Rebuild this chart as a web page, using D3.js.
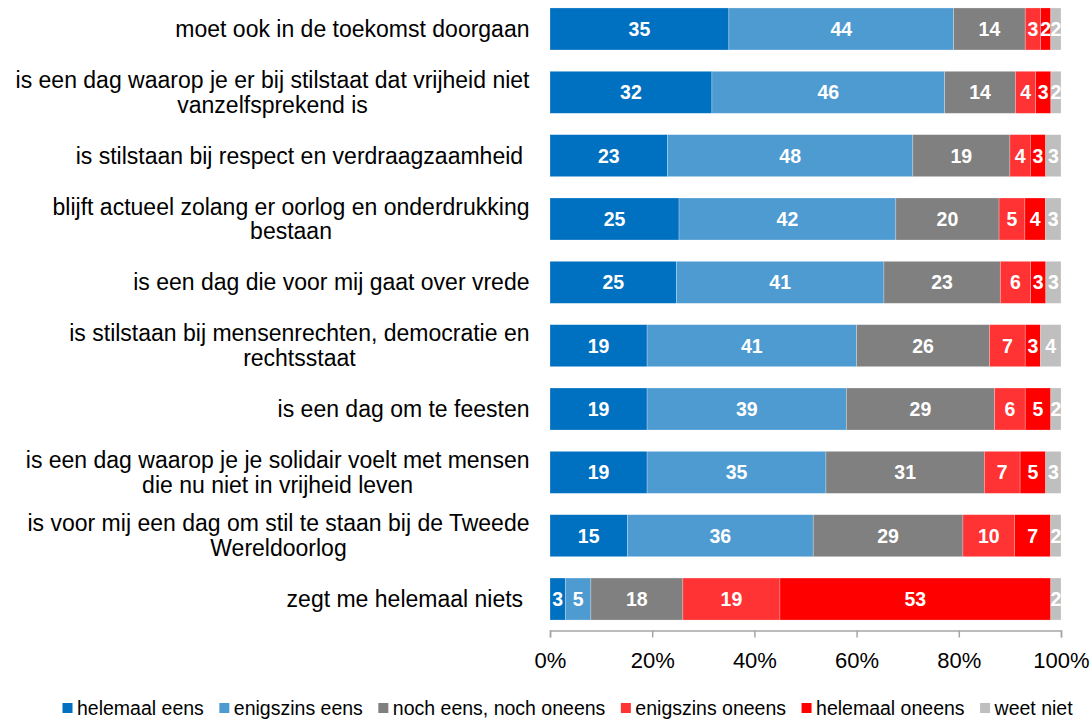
<!DOCTYPE html>
<html>
<head>
<meta charset="utf-8">
<script src="https://cdn.jsdelivr.net/npm/d3@7"></script>
<style>
  html, body { margin: 0; padding: 0; background: #fff; }
  svg { display: block; font-family: "Liberation Sans", Arial, sans-serif; }
</style>
</head>
<body>
<svg id="chart" width="1090" height="720"></svg>
<script>
// Statements (line breaks where the label wraps)
const categories = [
  "moet ook in de toekomst doorgaan",
  "is een dag waarop je er bij stilstaat dat vrijheid niet\nvanzelfsprekend is",
  "is stilstaan bij respect en verdraagzaamheid ",
  "blijft actueel zolang er oorlog en onderdrukking\nbestaan",
  "is een dag die voor mij gaat over vrede",
  "is stilstaan bij mensenrechten, democratie en\nrechtsstaat",
  "is een dag om te feesten",
  "is een dag waarop je je solidair voelt met mensen\ndie nu niet in vrijheid leven",
  "is voor mij een dag om stil te staan bij de Tweede\nWereldoorlog",
  "zegt me helemaal niets "
];

const seriesNames = [
  "helemaal eens",
  "enigszins eens",
  "noch eens, noch oneens",
  "enigszins oneens",
  "helemaal oneens",
  "weet niet"
];

// Percentages per answer, in the order of the statements
const helemaalEens    = [35, 32, 23, 25, 25, 19, 19, 19, 15, 3];
const enigszinsEens   = [44, 46, 48, 42, 41, 41, 39, 35, 36, 5];
const nochEensOneens  = [14, 14, 19, 20, 23, 26, 29, 31, 29, 18];
const enigszinsOneens = [3, 4, 4, 5, 6, 7, 6, 7, 10, 19];
const helemaalOneens  = [2, 3, 3, 4, 3, 3, 5, 5, 7, 53];
const weetNiet        = [2, 2, 3, 3, 3, 4, 2, 3, 2, 2];

const tickValues = [0, 0.2, 0.4, 0.6, 0.8, 1];

const seriesValues = [helemaalEens, enigszinsEens, nochEensOneens, enigszinsOneens, helemaalOneens, weetNiet];
const colors = ["#0070C0", "#4E9BD2", "#808080", "#FF3333", "#FF0000", "#BFBFBF"];

// Table for the stack layout
const rows = categories.map((c, i) => {
  const r = { category: c };
  seriesNames.forEach((s, j) => { r[s] = seriesValues[j][i]; });
  return r;
});

const svg = d3.select("#chart");

const x = d3.scaleLinear().domain([0, 1]).range([550, 1061]);
const y = d3.scaleBand()
  .domain(categories)
  .range([-2.7, 630.7])
  .paddingInner(0.337)
  .paddingOuter(0.1685);

const color = d3.scaleOrdinal().domain(seriesNames).range(colors);

// 100% stacked: each row is expanded to its own total
const stacked = d3.stack()
  .keys(seriesNames)
  .offset(d3.stackOffsetExpand)(rows);

const layers = svg.append("g").selectAll("g")
  .data(stacked)
  .join("g")
  .attr("fill", d => color(d.key));

layers.selectAll("rect")
  .data(d => d.map(p => ({ p, key: d.key })))
  .join("rect")
  .attr("x", d => x(d.p[0]))
  .attr("y", d => y(d.p.data.category))
  .attr("width", d => x(d.p[1]) - x(d.p[0]))
  .attr("height", y.bandwidth())
  .attr("stroke", "#ffffff")
  .attr("stroke-opacity", 0.35)
  .attr("stroke-width", 0.7);

// Value labels inside the segments
layers.selectAll("text")
  .data(d => d.map(p => ({ p, key: d.key })))
  .join("text")
  .attr("x", d => (x(d.p[0]) + x(d.p[1])) / 2)
  .attr("y", d => y(d.p.data.category) + y.bandwidth() / 2)
  .attr("dy", "0.36em")
  .attr("text-anchor", "middle")
  .attr("fill", "#ffffff")
  .attr("font-weight", "bold")
  .attr("font-size", 19.5)
  .text(d => d.p.data[d.key]);

// X axis
const axis = svg.append("g")
  .attr("transform", "translate(0,630.5)")
  .call(d3.axisBottom(x)
    .tickValues(tickValues)
    .tickFormat(d3.format(".0%"))
    .tickSize(7)
    .tickPadding(15));
axis.select(".domain").attr("stroke", "#A6A6A6").attr("stroke-width", 1.5);
axis.selectAll(".tick line").attr("stroke", "#A6A6A6").attr("stroke-width", 1.5);
axis.selectAll(".tick text")
  .attr("font-size", 22)
  .attr("fill", "#000")
  .attr("font-family", "'Liberation Sans', Arial, sans-serif");

// Category labels: right-aligned block, wrapped lines centred within it
const labelRight = 529.5;
const lineHeight = 24.5;
const labelG = svg.append("g")
  .attr("font-size", 23)
  .attr("fill", "#000");

categories.forEach(c => {
  const lines = c.split("\n");
  const cy = y(c) + y.bandwidth() / 2;
  const t = labelG.append("text")
    .attr("xml:space", "preserve")
    .style("white-space", "pre");
  const spans = lines.map((ln, i) => t.append("tspan")
    .attr("y", cy + (i - (lines.length - 1) / 2) * lineHeight)
    .attr("dy", "0.35em")
    .text(ln));
  if (lines.length === 1) {
    spans[0].attr("x", labelRight).attr("text-anchor", "end");
  } else {
    const w = d3.max(spans, s => s.node().getComputedTextLength());
    spans.forEach(s => s.attr("x", labelRight - w / 2).attr("text-anchor", "middle"));
  }
});

// Legend
const legend = svg.append("g").attr("font-size", 19.5).attr("fill", "#000");
let lx = 62.5;
const ly = 708;
seriesNames.forEach((s, i) => {
  legend.append("rect")
    .attr("x", lx).attr("y", ly - 5)
    .attr("width", 10).attr("height", 10)
    .attr("fill", color(s));
  const t = legend.append("text")
    .attr("x", lx + 14.5)
    .attr("y", ly)
    .attr("dy", "0.35em")
    .text(s);
  lx += 14.5 + t.node().getComputedTextLength() + 15.5;
});
</script>
</body>
</html>
